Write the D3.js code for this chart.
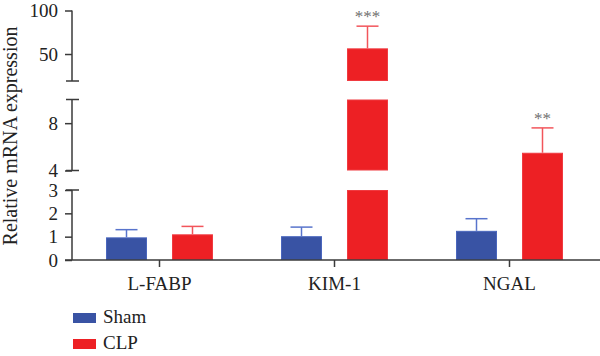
<!DOCTYPE html>
<html>
<head>
<meta charset="utf-8">
<script src="https://cdn.jsdelivr.net/npm/d3@7"></script>
<style>
  html, body { margin: 0; padding: 0; background: #fff; }
  svg { display: block; font-family: "Liberation Serif", "DejaVu Serif", serif; }
</style>
</head>
<body>
<svg id="chart" width="600" height="356"></svg>
<script>
// ---- data ----
const categories = ["L-FABP", "KIM-1", "NGAL"];
const series = ["Sham", "CLP"];
const shamMean = [0.97, 1.02, 1.25];
const shamErr  = [0.33, 0.39, 0.52];
const clpMean  = [1.10, 56.5, 5.5];
const clpErr   = [0.34, 25.5, 2.1];
const significance = ["", "***", "**"];
const yTicksBottom = [0, 1, 2, 3];
const yTicksMiddle = [4, 8];
const yTicksTop    = [50, 100];
const yTitle = "Relative mRNA expression";

// ---- layout ----
const svg = d3.select("#chart");
const axisX = 72, baseY = 260;
const colors = { Sham: "#3953a4", CLP: "#ed2024" };
const strokeCols = { Sham: "#4a66bd", CLP: "#f03a40" };
const errCols = { Sham: "#5874cc", CLP: "#f2555b" };
const axisCol = "#3a3a3a";

// broken y axis: three linear segments
const segments = [
  { scale: d3.scaleLinear().domain([0, 3]).range([baseY, 190]), ticks: yTicksBottom },
  { scale: d3.scaleLinear().domain([4, 10]).range([170.5, 99.5]), ticks: yTicksMiddle },
  { scale: d3.scaleLinear().domain([19, 100]).range([81, 10.5]), ticks: yTicksTop }
];
function yPos(v) {
  for (const s of segments) {
    const [a, b] = s.scale.domain();
    if (v <= b || s === segments[segments.length - 1]) return s.scale(Math.max(v, a));
  }
}

const x0 = d3.scaleBand().domain(categories).range([axisX, 597]).padding(0);
const x1 = d3.scaleBand().domain(series).range([34, 141]).paddingInner(25 / 66).paddingOuter(0);

// ---- bars ----
const rows = categories.map((c, i) => ({
  cat: c,
  vals: [
    { s: "Sham", v: shamMean[i], e: shamErr[i] },
    { s: "CLP", v: clpMean[i], e: clpErr[i] }
  ],
  sig: significance[i]
}));

const g = svg.append("g");
rows.forEach(r => {
  r.vals.forEach(d => {
    const bx = x0(r.cat) + x1(d.s);
    const bw = x1.bandwidth();
    const showGaps = d.v > segments[1].scale.domain()[1];
    let pieces;
    if (showGaps) {
      pieces = segments
        .filter(s => d.v > s.scale.domain()[0])
        .map(s => [s.scale(s.scale.domain()[0]), s.scale(Math.min(d.v, s.scale.domain()[1]))]);
    } else {
      pieces = [[baseY, yPos(d.v)]];
    }
    pieces.forEach(([yb, yt]) => {
      g.append("rect")
        .attr("x", bx + 0.5).attr("y", yt + 0.5)
        .attr("width", bw - 1).attr("height", Math.max(0, yb - yt - 1))
        .attr("fill", colors[d.s])
        .attr("stroke", strokeCols[d.s]).attr("stroke-width", 1);
    });
    // error bar (upper only)
    const cx = bx + bw / 2;
    const yTop = yPos(d.v), yErr = yPos(d.v + d.e);
    g.append("line").attr("x1", cx).attr("x2", cx).attr("y1", yTop).attr("y2", yErr)
      .attr("stroke", errCols[d.s]).attr("stroke-width", 1.5);
    g.append("line").attr("x1", cx - 11).attr("x2", cx + 11).attr("y1", yErr).attr("y2", yErr)
      .attr("stroke", errCols[d.s]).attr("stroke-width", 1.5);
    if (d.s === "CLP" && r.sig) {
      g.append("text").attr("x", cx).attr("y", yErr - 4)
        .attr("text-anchor", "middle").attr("font-size", 17)
        .attr("fill", "#707070").text(r.sig);
    }
  });
});

// ---- y axis ----
segments.forEach((s, i) => {
  const ax = svg.append("g").attr("transform", `translate(${axisX},0)`)
    .call(d3.axisLeft(s.scale).tickValues(s.ticks).tickFormat(d3.format("d"))
      .tickSize(7).tickSizeOuter(0).tickPadding(7));
  ax.select(".domain").remove();
  ax.selectAll(".tick line").attr("stroke", axisCol).attr("stroke-width", 1.5);
  ax.selectAll(".tick text").attr("font-size", 19).attr("fill", "#222")
    .attr("font-family", '"Liberation Serif", serif');
  const [r0, r1] = s.scale.range();
  svg.append("line").attr("x1", axisX).attr("x2", axisX).attr("y1", r0).attr("y2", r1)
    .attr("stroke", axisCol).attr("stroke-width", 1.5);
  // end caps at breaks
  if (i > 0) svg.append("line").attr("x1", axisX - 6).attr("x2", axisX + 7).attr("y1", r0).attr("y2", r0)
    .attr("stroke", axisCol).attr("stroke-width", 1.5);
  if (i < segments.length - 1) svg.append("line").attr("x1", axisX - 6).attr("x2", axisX + 7).attr("y1", r1).attr("y2", r1)
    .attr("stroke", axisCol).attr("stroke-width", 1.5);
});

// ---- x axis ----
const xa = svg.append("g").attr("transform", `translate(0,${baseY})`)
  .call(d3.axisBottom(x0).tickSize(7).tickSizeOuter(0));
xa.select(".domain").remove();
xa.selectAll(".tick line").attr("stroke", axisCol).attr("stroke-width", 1.5);
xa.selectAll(".tick text").attr("font-size", 19).attr("fill", "#222")
  .attr("font-family", '"Liberation Serif", serif')
  .attr("y", 30).attr("dy", 0);
svg.append("line").attr("x1", axisX - 7).attr("x2", 600).attr("y1", baseY).attr("y2", baseY)
  .attr("stroke", axisCol).attr("stroke-width", 1.5);

// ---- y title ----
svg.append("text")
  .attr("transform", `translate(17,${136}) rotate(-90)`)
  .attr("text-anchor", "middle").attr("font-size", 20).attr("fill", "#222")
  .text(yTitle);

// ---- legend ----
const lg = svg.append("g");
series.forEach((s, i) => {
  const yy = 313 + i * 26;
  lg.append("rect").attr("x", 73).attr("y", yy).attr("width", 23).attr("height", 10)
    .attr("fill", colors[s]);
  lg.append("text").attr("x", 103).attr("y", yy + 10).attr("font-size", 19)
    .attr("fill", "#222").text(s);
});
</script>
</body>
</html>
